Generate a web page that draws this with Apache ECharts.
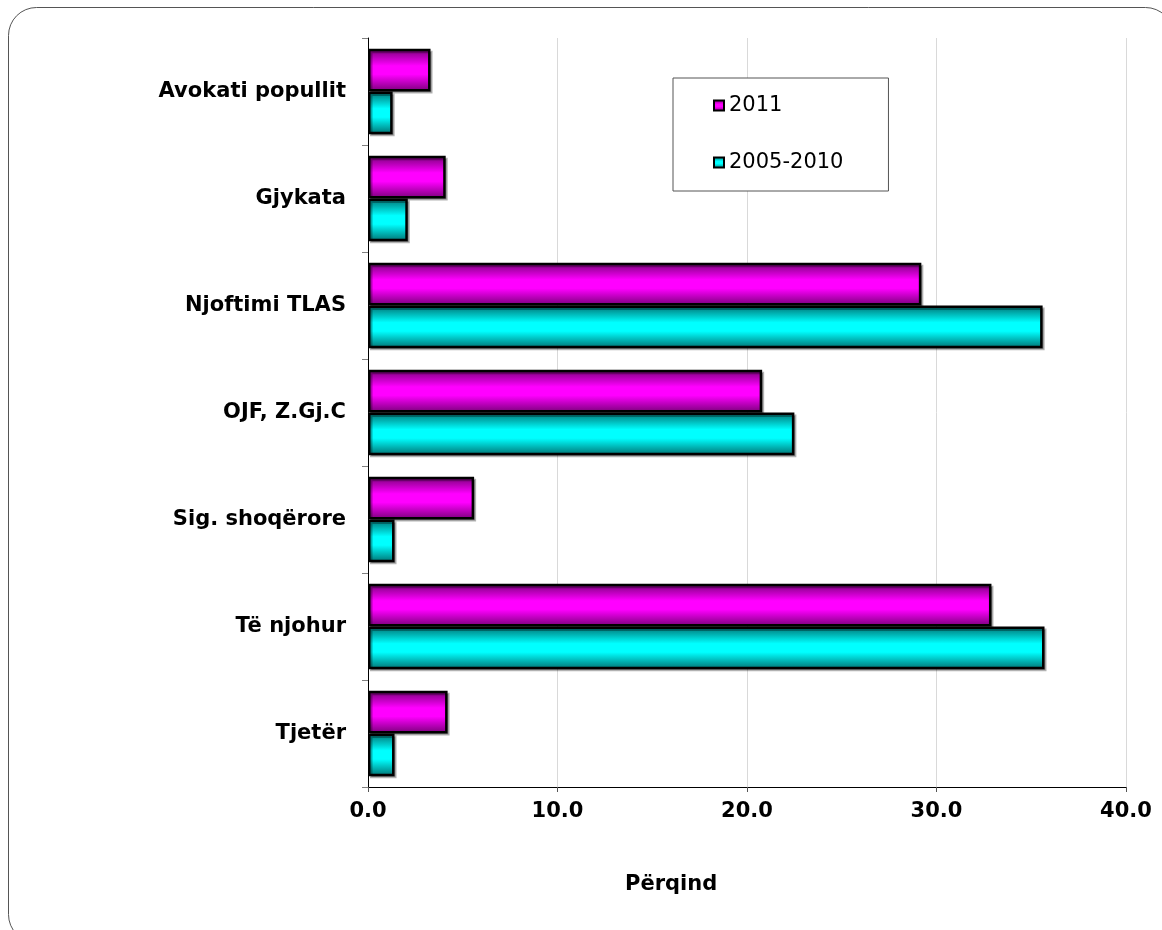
<!DOCTYPE html>
<html>
<head>
<meta charset="utf-8">
<script src="https://cdn.jsdelivr.net/npm/echarts@6/dist/echarts.min.js"></script>
<style>
html,body{margin:0;padding:0;background:#fff;overflow:hidden;}
#chart{width:1162px;height:930px;}
</style>
</head>
<body>
<div id="chart"></div>
<script>
const categories = ['Avokati popullit', 'Gjykata', 'Njoftimi TLAS', 'OJF, Z.Gj.C', 'Sig. shoqërore', 'Të njohur', 'Tjetër'];
const seriesNames = ['2011', '2005-2010'];
const values2011 = [3.3, 4.1, 29.2, 20.8, 5.6, 32.9, 4.2];
const values2005_2010 = [1.3, 2.1, 35.6, 22.5, 1.4, 35.7, 1.4];
const xTicks = [0, 10, 20, 30, 40];
const xTitle = 'Përqind';

const FONT = "'DejaVu Sans', Verdana, sans-serif";
const chart = echarts.init(document.getElementById('chart'), null, {renderer: 'canvas'});

function grad(dark, light) {
  return new echarts.graphic.LinearGradient(0, 0, 0, 1, [
    {offset: 0, color: dark},
    {offset: 0.4, color: light},
    {offset: 0.6, color: light},
    {offset: 1, color: dark}
  ]);
}

const barStyle = (dark, light) => ({
  color: grad(dark, light),
  borderColor: '#000',
  borderWidth: 2.5,
  shadowColor: 'rgba(0,0,0,0.3)',
  shadowOffsetX: 2,
  shadowOffsetY: 2,
  shadowBlur: 0
});

chart.setOption({
  animation: false,
  backgroundColor: '#fff',
  grid: {left: 368, right: 36, top: 38, bottom: 143, containLabel: false},
  legend: {
    data: seriesNames,
    orient: 'vertical',
    left: 673,
    top: 78,
    icon: 'rect',
    itemWidth: 10,
    itemHeight: 10,
    itemGap: 36,
    padding: [17, 45, 18, 40],
    borderColor: '#555',
    borderWidth: 1,
    borderRadius: 0,
    backgroundColor: '#fff',
    textStyle: {fontFamily: FONT, fontSize: 21, color: '#000'},
    itemStyle: {borderColor: '#000', borderWidth: 2, shadowBlur: 0, shadowOffsetX: 0, shadowOffsetY: 0}
  },
  xAxis: {
    type: 'value',
    min: xTicks[0],
    max: xTicks[xTicks.length - 1],
    interval: xTicks[1] - xTicks[0],
    axisLine: {show: true, lineStyle: {color: '#000', width: 1}},
    axisTick: {show: true, length: 5, lineStyle: {color: '#555'}},
    splitLine: {show: true, lineStyle: {color: '#d9d9d9', width: 1}},
    axisLabel: {
      formatter: v => v.toFixed(1),
      fontFamily: FONT, fontSize: 21, fontWeight: 'bold', color: '#000', margin: 14
    }
  },
  yAxis: {
    type: 'category',
    data: categories,
    inverse: true,
    axisLine: {show: true, lineStyle: {color: '#000', width: 1}},
    axisTick: {show: true, length: 6, lineStyle: {color: '#808080'}},
    axisLabel: {fontFamily: FONT, fontSize: 21, fontWeight: 'bold', color: '#000', margin: 22}
  },
  graphic: [
    {
      type: 'rect',
      z: -1,
      shape: {x: 8.5, y: 7.5, width: 1165, height: 935, r: 28},
      style: {fill: 'none', stroke: '#555', lineWidth: 1}
    },
    {
      type: 'text',
      left: 625,
      top: 874,
      style: {text: xTitle, font: "bold 21px 'DejaVu Sans', Verdana, sans-serif", fill: '#000'}
    }
  ],
  series: [
    {
      name: seriesNames[0],
      type: 'bar',
      data: values2011,
      barGap: '0%',
      barCategoryGap: '20%',
      itemStyle: barStyle('#780078', '#ff00ff')
    },
    {
      name: seriesNames[1],
      type: 'bar',
      data: values2005_2010,
      barGap: '0%',
      barCategoryGap: '20%',
      itemStyle: barStyle('#007070', '#00ffff')
    }
  ]
});
</script>
</body>
</html>
